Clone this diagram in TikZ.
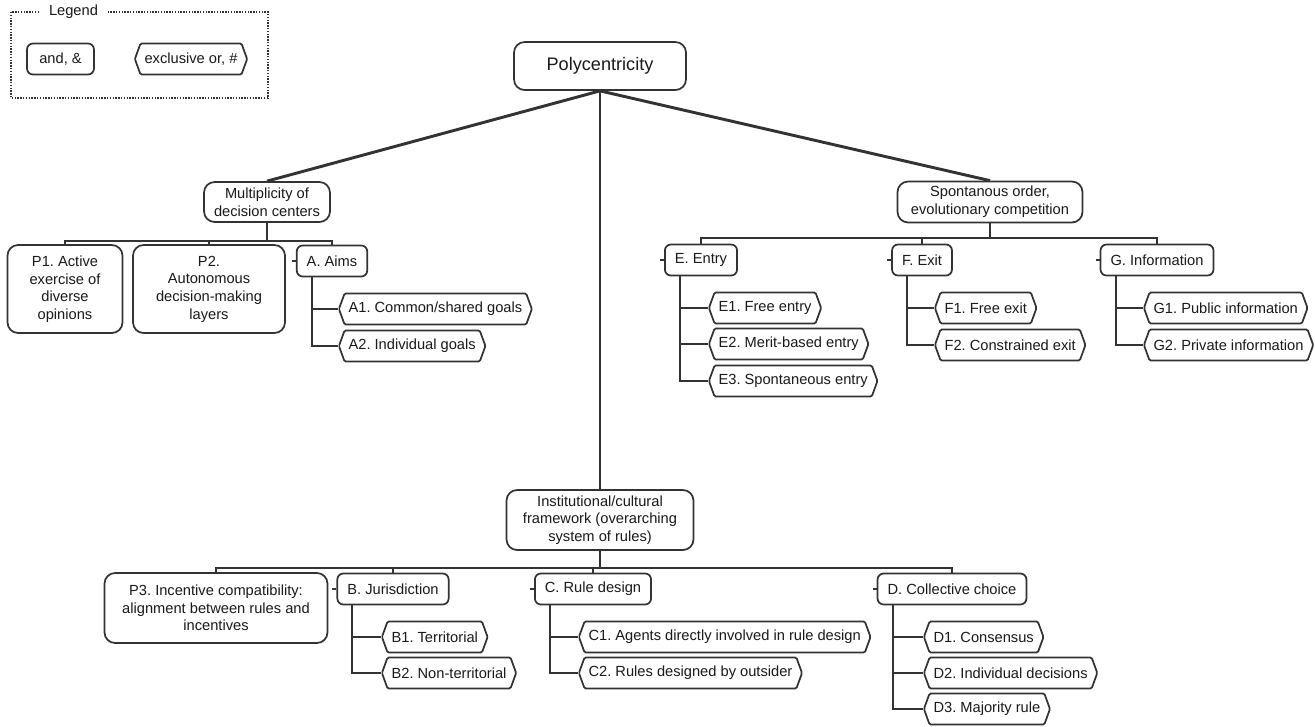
\documentclass[tikz,border=0pt]{standalone}
\usepackage{fontspec}
\setmainfont{Liberation Sans}
\frenchspacing
\usetikzlibrary{shapes.symbols,calc}
\definecolor{ink}{HTML}{1A1A1A}
\definecolor{edgegray}{HTML}{333333}
\tikzset{
  rootedge/.style={draw=edgegray,line width=2.2pt},
  treeedge/.style={draw=edgegray,line width=1.5pt},
  boxtick/.style={draw=edgegray,line width=.9pt},
  andbox/.style={draw=edgegray,fill=white,rounded corners=4.5pt,line width=1.3pt,
    minimum height=23.25pt,inner xsep=7.5pt,inner ysep=2pt,align=center,
    font=\fontsize{11}{13.2}\selectfont},
  bigbox/.style={andbox,rounded corners=8pt},
  xorbox/.style={signal,signal to=east and west,signal pointer angle=140,
    draw=edgegray,fill=white,rounded corners=1pt,line width=1.3pt,
    minimum height=23.25pt,inner xsep=3pt,inner ysep=2pt,
    font=\fontsize{11}{13.2}\selectfont}
}

\begin{document}
\begin{tikzpicture}[x=.75pt,y=-.75pt,every node/.style={text=ink}]
  \useasboundingbox (0,0) rectangle (1315,726);

  % Legend.
  \draw[edgegray,densely dotted,line width=1.1pt] (11,12) rectangle (268,98);
  \node[fill=white,inner xsep=7.5pt,inner ysep=1pt,font=\fontsize{11}{13.2}\selectfont]
    (legend) at (73.5,12) {Legend};
  \node[andbox,minimum width=50.25pt] (legand) at (60.5,59) {and, \&};
  \node[xorbox] (legxor) at (191,59) {exclusive or, \#};

  % Root and the three main branches.
  \node[bigbox,minimum width=129pt,minimum height=36pt,
    font=\fontsize{13.6}{16}\selectfont] (poly) at (600,66) {Polycentricity};
  \node[bigbox,minimum width=94.5pt,minimum height=30pt] (mult) at (267,202)
    {Multiplicity of\\decision centers};
  \node[bigbox,minimum width=138.75pt,minimum height=30.75pt] (spont) at (990,202)
    {Spontanous order,\\evolutionary competition};
  \node[bigbox,minimum width=140.25pt,minimum height=45pt] (inst) at (600,520)
    {Institutional/cultural\\framework (overarching\\system of rules)};
  \draw[rootedge] (poly.south) -- (mult.north);
  \draw[rootedge] (poly.south) -- (spont.north);
  \draw[rootedge] (poly.south) -- (inst.north);

  % Multiplicity of decision centers.
  \node[bigbox,minimum width=86.25pt,minimum height=66pt] (p1) at (65,289)
    {P1. Active\\exercise of\\diverse\\opinions};
  \node[bigbox,minimum width=114pt,minimum height=66pt] (p2) at (209,289)
    {P2.\\Autonomous\\decision-making\\layers};
  \node[andbox] (aims) at (332,261) {A. Aims};
  \draw[treeedge] (mult.south) -- ++(0,18) -| (p1.north);
  \draw[treeedge] (mult.south) -- ++(0,18) -| (p2.north);
  \draw[treeedge] (mult.south) -- ++(0,18) -| (aims.north);
  \node[xorbox,anchor=west] (a1) at (338,309) {A1. Common/shared goals};
  \node[xorbox,anchor=west] (a2) at (338,346) {A2. Individual goals};
  \draw[treeedge] ($(aims.south west)+(16,0)$) |- (a1.west);
  \draw[treeedge] ($(aims.south west)+(16,0)$) |- (a2.west);
  \draw[boxtick] (aims.west) -- ++(-4,0);

  % Spontanous order, evolutionary competition.
  \node[andbox] (entry) at (701,260) {E. Entry};
  \node[andbox] (exit) at (922,260) {F. Exit};
  \node[andbox] (info) at (1157,260) {G. Information};
  \draw[treeedge] (spont.south) -- ++(0,15) -| (entry.north);
  \draw[treeedge] (spont.south) -- ++(0,15) -| (exit.north);
  \draw[treeedge] (spont.south) -- ++(0,15) -| (info.north);
  \node[xorbox,anchor=west] (e1) at (708,308) {E1. Free entry};
  \node[xorbox,anchor=west] (e2) at (708,344) {E2. Merit-based entry};
  \node[xorbox,anchor=west] (e3) at (708,381) {E3. Spontaneous entry};
  \draw[treeedge] ($(entry.south west)+(16,0)$) |- (e1.west);
  \draw[treeedge] ($(entry.south west)+(16,0)$) |- (e2.west);
  \draw[treeedge] ($(entry.south west)+(16,0)$) |- (e3.west);
  \node[xorbox,anchor=west] (f1) at (934,308) {F1. Free exit};
  \node[xorbox,anchor=west] (f2) at (934,345) {F2. Constrained exit};
  \draw[treeedge] ($(exit.south west)+(16,0)$) |- (f1.west);
  \draw[treeedge] ($(exit.south west)+(16,0)$) |- (f2.west);
  \node[xorbox,anchor=west] (g1) at (1143,308) {G1. Public information};
  \node[xorbox,anchor=west] (g2) at (1143,345) {G2. Private information};
  \draw[treeedge] ($(info.south west)+(16,0)$) |- (g1.west);
  \draw[treeedge] ($(info.south west)+(16,0)$) |- (g2.west);
  \draw[boxtick] (entry.west) -- ++(-4,0);
  \draw[boxtick] (exit.west) -- ++(-4,0);
  \draw[boxtick] (info.west) -- ++(-4,0);

  % Institutional/cultural framework.
  \node[bigbox,minimum width=167.25pt,minimum height=52.5pt] (p3) at (216,608)
    {P3. Incentive compatibility:\\alignment between rules and\\incentives};
  \node[andbox] (juris) at (393,589) {B. Jurisdiction};
  \node[andbox] (rule) at (593,589) {C. Rule design};
  \node[andbox] (coll) at (952,589) {D. Collective choice};
  \draw[treeedge] (inst.south) -- ++(0,17) -| (p3.north);
  \draw[treeedge] (inst.south) -- ++(0,17) -| (juris.north);
  \draw[treeedge] (inst.south) -- ++(0,17) -| (rule.north);
  \draw[treeedge] (inst.south) -- ++(0,17) -| (coll.north);
  \node[xorbox,anchor=west] (b1) at (381,637) {B1. Territorial};
  \node[xorbox,anchor=west] (b2) at (381,673) {B2. Non-territorial};
  \draw[treeedge] ($(juris.south west)+(16,0)$) |- (b1.west);
  \draw[treeedge] ($(juris.south west)+(16,0)$) |- (b2.west);
  \node[xorbox,anchor=west] (c1) at (578,637) {C1. Agents directly involved in rule design};
  \node[xorbox,anchor=west] (c2) at (578,673) {C2. Rules designed by outsider};
  \draw[treeedge] ($(rule.south west)+(16,0)$) |- (c1.west);
  \draw[treeedge] ($(rule.south west)+(16,0)$) |- (c2.west);
  \node[xorbox,anchor=west] (d1) at (923,637) {D1. Consensus};
  \node[xorbox,anchor=west] (d2) at (923,673) {D2. Individual decisions};
  \node[xorbox,anchor=west] (d3) at (923,709) {D3. Majority rule};
  \draw[treeedge] ($(coll.south west)+(16,0)$) |- (d1.west);
  \draw[treeedge] ($(coll.south west)+(16,0)$) |- (d2.west);
  \draw[treeedge] ($(coll.south west)+(16,0)$) |- (d3.west);
  \draw[boxtick] (juris.west) -- ++(-4,0);
  \draw[boxtick] (rule.west) -- ++(-4,0);
  \draw[boxtick] (coll.west) -- ++(-4,0);
\end{tikzpicture}
\end{document}
